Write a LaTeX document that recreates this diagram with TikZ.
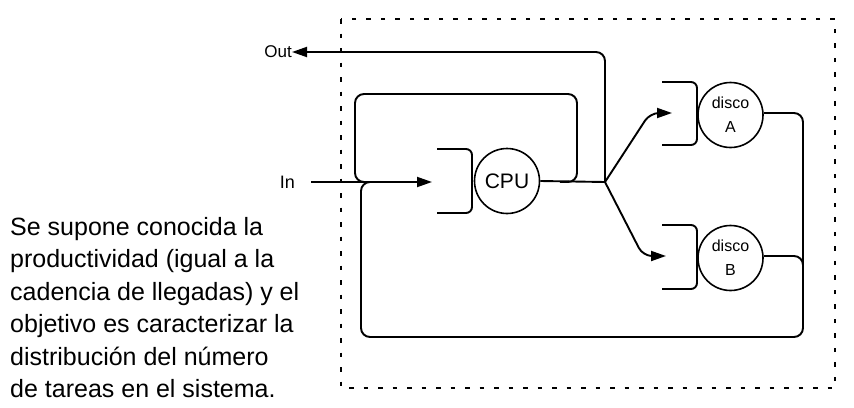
\documentclass[tikz,border=0pt]{standalone}
\usepackage{fontspec}
\setmainfont{Liberation Sans}
\usetikzlibrary{arrows.meta}
\begin{document}
\begin{tikzpicture}[x=1pt,y=-1pt,
  ln/.style={line width=1.9pt,rounded corners=9pt},
  arr/.style={-{Triangle[length=15pt,width=10pt]}},
  srv/.style={circle,draw,line width=1.6pt,minimum size=65pt,inner sep=0pt,align=center},
  que/.style={line width=1.9pt,rounded corners=6pt},
  lbl/.style={font=\fontsize{17pt}{19pt}\selectfont,inner sep=0pt}]
\useasboundingbox (0,0) rectangle (854,407);
% system boundary
\draw[line width=2.6pt,dash pattern=on 4.5pt off 10pt] (341,19) rectangle (835,388);
% servers
\node[srv,font=\fontsize{21pt}{23pt}\selectfont] (cpu) at (507,181) {CPU};
\node[srv,font=\fontsize{16pt}{24pt}\selectfont] (da) at (730.5,115) {disco\\A};
\node[srv,font=\fontsize{16pt}{24pt}\selectfont] (db) at (730.5,258) {disco\\B};
% queues
\draw[que] (437,149) -- (472,149) -- (472,213) -- (437,213);
\draw[que] (662,82) -- (697,82) -- (697,145) -- (662,145);
\draw[que] (662,225) -- (697,225) -- (697,289) -- (662,289);
% labels
\node[lbl,anchor=east] (out) at (292,52) {Out};
\node[lbl,anchor=east,font=\fontsize{18pt}{20pt}\selectfont] (in) at (295,182) {In};
\coordinate (split) at (605,182);
\coordinate (inS) at (311,182);
\coordinate (inT) at (432,182);
\coordinate (aT) at (672,113);
\coordinate (bT) at (666,256);
% connectors
\draw[ln] (cpu.east) -- (split);
\draw[ln,arr] (split) -- (605,52) -- (out.east);
\draw[ln,arr] (inS) -- (inT);
\draw[ln,arr] (split) -- (650,113) -- (aT);
\draw[ln,arr] (split) -- (643,256) -- (bT);
\draw[ln] (560,182) -| (577,94) -| (355,182) -- (372,182);
\draw[ln] (da.east |- 0,113) -- (803,113) -- (803,337) -- (361,337) -- (361,182) -- (378,182);
\draw[ln] (db.east |- 0,256) -| (803,275);
% description
\node[anchor=north west,align=left,inner sep=0pt,font=\fontsize{25pt}{32.5pt}\selectfont] (txt) at (10,217)
{Se supone conocida la\\productividad (igual a la\\cadencia de llegadas) y el\\objetivo es caracterizar la\\distribución del número\\de tareas en el sistema.};
\end{tikzpicture}
\end{document}
